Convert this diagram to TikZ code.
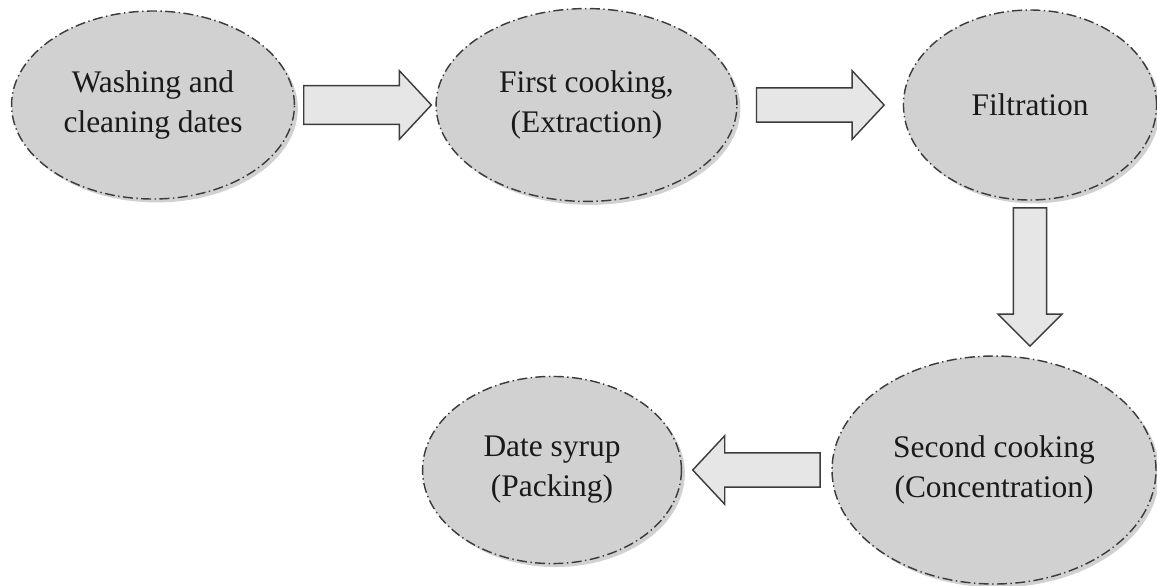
\documentclass[tikz,border=0pt]{standalone}
\usepackage{fontspec}
\setmainfont{Liberation Serif}
\usetikzlibrary{calc,shapes.geometric,shadows}
\definecolor{ink}{HTML}{1A1A1A}
\definecolor{rim}{HTML}{3C3C3C}
\definecolor{bubble}{HTML}{D1D1D1}
\definecolor{arrowFill}{HTML}{E6E6E6}
\tikzset{
    ba shaft/.store in=\baShaft, ba shaft=6pt,
    ba head/.store in=\baHead, ba head=12pt,
    ba length/.store in=\baLen, ba length=11.2pt,
    ba gap start/.store in=\baGapA, ba gap start=3pt,
    ba gap end/.store in=\baGapB, ba gap end=3pt,
    stage/.style={ellipse, inner sep=0pt, fill=bubble, draw=rim,
                  line width=0.5pt,
                  dash pattern=on 3.5pt off 1.2pt on 0.5pt off 1.2pt,
                  drop shadow={shadow xshift=1.2pt, shadow yshift=-1.2pt,
                               fill=bubble, opacity=1},
                  align=center, text=ink,
                  font=\fontsize{11pt}{14pt}\selectfont},
    blockarrow/.style={draw=ink!85, fill=arrowFill, line width=0.5pt,
        line join=miter,
        to path={
            let \p1=($(\tikztostart)!\baGapA!(\tikztotarget)$),
                \p2=($(\tikztotarget)!\baGapB!(\tikztostart)$),
                \n1={atan2(\y2-\y1,\x2-\x1)},
                \n2={veclen(\x2-\x1,\y2-\y1)} in
            ($(\p1)+(\n1+90:\baShaft)$)
            -- ++(\n1:\n2-\baLen)
            -- ++(\n1+90:\baHead-\baShaft)
            -- (\p2)
            -- ($(\p1)+(\n1:\n2-\baLen)+(\n1-90:\baHead)$)
            -- ++(\n1+90:\baHead-\baShaft)
            -- ($(\p1)+(\n1-90:\baShaft)$)
            -- cycle
        }},
}

\begin{document}
\begin{tikzpicture}[x=0.35pt, y=-0.35pt]
\useasboundingbox (0,0) rectangle (1157,585);

% stages
\node[stage, minimum width=99pt, minimum height=65.8pt] (wash) at (153,105)
    {Washing and\\cleaning dates};
\node[stage, minimum width=105.3pt, minimum height=67.5pt] (cook1) at (586.5,105)
    {First cooking,\\(Extraction)};
\node[stage, minimum width=88.6pt, minimum height=66.5pt] (filt) at (1030,105)
    {Filtration};
\node[stage, minimum width=113.4pt, minimum height=79.8pt] (cook2) at (994,470)
    {Second cooking\\(Concentration)};
\node[stage, minimum width=90.6pt, minimum height=65.5pt] (syrup) at (552,470)
    {Date syrup\\(Packing)};

% block arrows
\draw[blockarrow, ba shaft=6.8pt, ba gap start=3pt, ba gap end=1.4pt]
    (wash.east) to (cook1.west);
\draw[blockarrow, ba gap start=6.6pt, ba gap end=6.5pt]
    (cook1.east) to (filt.west);
\draw[blockarrow, ba shaft=5.8pt, ba head=11.2pt, ba gap start=2.5pt, ba gap end=3.2pt]
    (filt.south) to (filt.south |- cook2.north);
\draw[blockarrow, ba gap start=3.9pt, ba gap end=3.7pt]
    (cook2.west) to (syrup.east);

\end{tikzpicture}
\end{document}
